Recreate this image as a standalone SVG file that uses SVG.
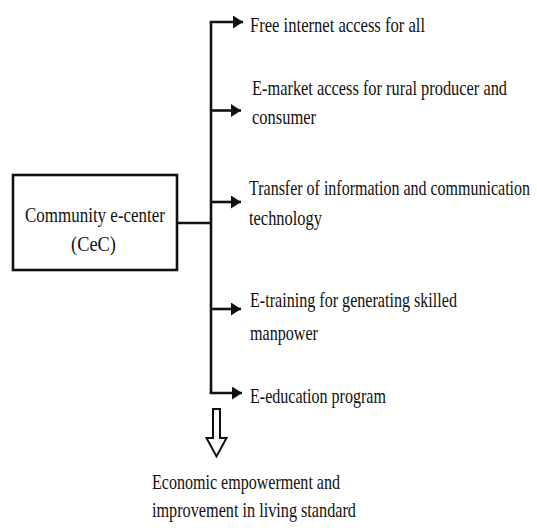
<svg xmlns="http://www.w3.org/2000/svg" width="537" height="532" viewBox="0 0 537 532">
<style>
  .t { font-family: "Liberation Serif", "Times New Roman", "DejaVu Serif", serif; font-size: 22px; fill: #111; }
  .ln { stroke: #111; stroke-width: 2.6; fill: none; }
  .box { stroke: #111; stroke-width: 2.6; fill: #fff; }
  .hollow { stroke: #111; stroke-width: 2; fill: #fff; stroke-linejoin: miter; }
</style>
<defs>
  <marker id="ah" markerUnits="userSpaceOnUse" markerWidth="11" markerHeight="13" refX="10" refY="6.5" orient="auto">
    <path d="M0,0 L10,6.5 L0,13 Z" fill="#111"/>
  </marker>
</defs>
<rect width="537" height="532" fill="#fff"/>
<g id="connectors">
  <path class="ln" d="M177,223 H211"/>
  <path class="ln" d="M211,22 V393"/>
  <path class="ln" d="M209.7,22 H243" marker-end="url(#ah)"/>
  <path class="ln" d="M211,110.5 H241" marker-end="url(#ah)"/>
  <path class="ln" d="M211,202 H241" marker-end="url(#ah)"/>
  <path class="ln" d="M211,309 H241" marker-end="url(#ah)"/>
  <path class="ln" d="M209.7,393 H242" marker-end="url(#ah)"/>
  <path id="down-arrow" class="hollow" d="M213,409 H220 V438 H226.5 L216.5,456.5 L206.5,438 H213 Z"/>
</g>
<g id="center">
  <rect class="box" x="13" y="175" width="164" height="95"/>
  <text class="t" transform="translate(25,222) scale(0.77,1)" textLength="181.8" lengthAdjust="spacingAndGlyphs">Community e-center</text>
  <text class="t" transform="translate(71,251) scale(0.77,1)" textLength="58.4" lengthAdjust="spacingAndGlyphs">(CeC)</text>
</g>
<g id="item1">
  <text class="t" transform="translate(250,32) scale(0.77,1)" textLength="227.3" lengthAdjust="spacingAndGlyphs">Free internet access for all</text>
</g>
<g id="item2">
  <text class="t" transform="translate(252,95) scale(0.77,1)" textLength="331.2" lengthAdjust="spacingAndGlyphs">E-market access for rural producer and</text>
  <text class="t" transform="translate(252,124) scale(0.77,1)" textLength="83.1" lengthAdjust="spacingAndGlyphs">consumer</text>
</g>
<g id="item3">
  <text class="t" transform="translate(249,195) scale(0.72,1)" textLength="390.3" lengthAdjust="spacingAndGlyphs">Transfer of information and communication</text>
  <text class="t" transform="translate(249,225) scale(0.77,1)" textLength="94.8" lengthAdjust="spacingAndGlyphs">technology</text>
</g>
<g id="item4">
  <text class="t" transform="translate(250,307) scale(0.77,1)" textLength="268.8" lengthAdjust="spacingAndGlyphs">E-training for generating skilled</text>
  <text class="t" transform="translate(250,340) scale(0.77,1)" textLength="88.3" lengthAdjust="spacingAndGlyphs">manpower</text>
</g>
<g id="item5">
  <text class="t" transform="translate(250,403) scale(0.77,1)" textLength="176.6" lengthAdjust="spacingAndGlyphs">E-education program</text>
</g>
<g id="outcome">
  <text class="t" transform="translate(152,489) scale(0.77,1)" textLength="244.2" lengthAdjust="spacingAndGlyphs">Economic empowerment and</text>
  <text class="t" transform="translate(152,517) scale(0.77,1)" textLength="264.9" lengthAdjust="spacingAndGlyphs">improvement in living standard</text>
</g>
</svg>
